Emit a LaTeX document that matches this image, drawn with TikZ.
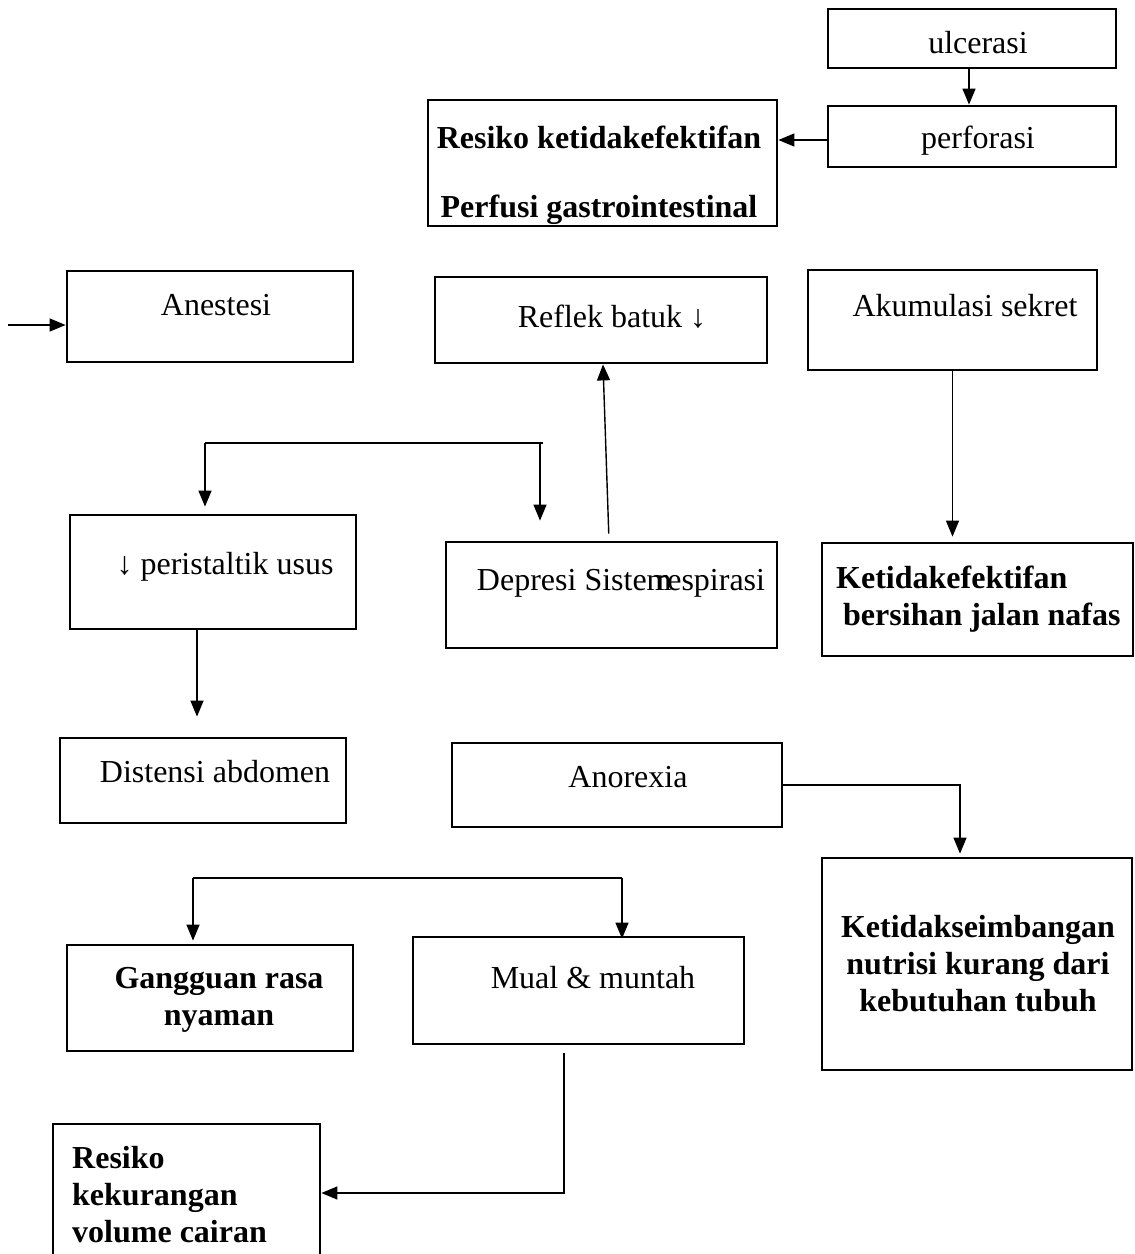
\documentclass[tikz,border=0pt]{standalone}
\usepackage{fontspec}
\setmainfont{Liberation Serif}
\usetikzlibrary{arrows.meta,calc}
\tikzset{
  box/.style={draw, rectangle, line width=2.8pt, inner sep=0pt},
  txt/.style={font=\fontsize{32pt}{37pt}\selectfont, inner sep=0pt, align=center},
  dgn/.style={font=\fontsize{32pt}{37pt}\selectfont\bfseries, inner sep=0pt},
  arr/.style={-{Triangle[length=16pt,width=13pt]}, line width=1.4pt},
  lnk/.style={line width=1.4pt},
}
\begin{document}
\begin{tikzpicture}[x=1pt,y=-1pt]
\useasboundingbox (0,0) rectangle (1135,1254);
\node[box, minimum width=288pt, minimum height=59pt] (ulc) at (972,38.5) {};
\node[txt, anchor=base] (ulcT) at (978,53) {ulcerasi};
\node[box, minimum width=288pt, minimum height=61pt] (perf) at (972,136.5) {};
\node[txt, anchor=base] (perfT) at (978,148) {perforasi};
\node[box, minimum width=349pt, minimum height=126pt] (rpg) at (602.5,163) {};
\node[dgn, align=center] (rpgT) at (599,175) {Resiko ketidakefektifan\\[32pt]Perfusi gastrointestinal};
\node[box, minimum width=286pt, minimum height=91pt] (anes) at (210,316.5) {};
\node[txt, anchor=base] (anesT) at (216,315) {Anestesi};
\node[box, minimum width=332pt, minimum height=86pt] (reflek) at (601,320) {};
\node[txt, anchor=base] (reflekT) at (612,327) {Reflek batuk ↓};
\node[box, minimum width=289pt, minimum height=100pt] (akum) at (952.5,320) {};
\node[txt, anchor=base] (akumT) at (965,316) {Akumulasi sekret};
\node[box, minimum width=286pt, minimum height=114pt] (peri) at (213,572) {};
\node[txt, anchor=base] (periT) at (225,574) {↓ peristaltik usus};
\node[box, minimum width=331pt, minimum height=106pt] (depr) at (611.5,595) {};
\node[txt, anchor=base] (deprT) at (621,590) {Depresi Sistem\hspace{-15pt}respirasi};
\node[box, minimum width=311pt, minimum height=113pt] (bers) at (977.5,599.5) {};
\node[dgn, align=left, anchor=west] (bersT) at (836,599) {Ketidakefektifan\\\hspace{7pt}bersihan jalan nafas};
\node[box, minimum width=286pt, minimum height=85pt] (dist) at (203,780.5) {};
\node[txt, anchor=base] (distT) at (215,782) {Distensi abdomen};
\node[box, minimum width=330pt, minimum height=84pt] (anor) at (617,785) {};
\node[txt, anchor=base] (anorT) at (628,787) {Anorexia};
\node[box, minimum width=310pt, minimum height=212pt] (ketseim) at (977,964) {};
\node[dgn, align=center] (ketseimT) at (978,964) {Ketidakseimbangan\\nutrisi kurang dari\\kebutuhan tubuh};
\node[box, minimum width=286pt, minimum height=106pt] (gang) at (210,998) {};
\node[dgn, align=center] (gangT) at (219,1000) {Gangguan rasa\\nyaman};
\node[box, minimum width=331pt, minimum height=107pt] (mual) at (578.5,990.5) {};
\node[txt, anchor=base] (mualT) at (593,988) {Mual \& muntah};
\node[box, minimum width=267pt, minimum height=138pt] (rkvc) at (186.5,1193) {};
\node[dgn, align=left, anchor=west] (rkvcT) at (72,1195) {Resiko\\kekurangan\\volume cairan};
\draw[arr] ([xshift=-3pt]ulc.south) -- ([xshift=-3pt]perf.north);
\draw[arr] ([yshift=-3.5pt]perf.west) -- ([yshift=-3.5pt]perf.west -| rpg.east);
\coordinate (src) at (8,325);
\draw[arr] (src) -- (src -| anes.west);
\coordinate (fkL) at (205,443); \coordinate (fkR) at (543,443);
\draw[lnk] (fkL) -- (fkR);
\draw[arr, shorten >=7pt] (fkL) -- (fkL |- peri.north);
\draw[arr, shorten >=20pt] ([xshift=-3pt]fkR) -- ([xshift=-3pt]fkR |- depr.north);
\draw[arr, shorten <=7pt] ([xshift=-2.5pt]depr.north) -- ([xshift=2pt]reflek.south);
\draw[arr, shorten >=5pt] (akum.south) -- (akum.south |- bers.north);
\draw[arr, shorten >=20pt] ([xshift=-16pt]peri.south) -- ([xshift=-16pt]peri.south |- dist.north);
\draw[arr, shorten >=3pt] (anor.east) -| ([xshift=-17pt]ketseim.north);
\coordinate (fk2L) at (193,878); \coordinate (fk2R) at (622,878);
\draw[lnk] (fk2L) -- (fk2R);
\draw[arr, shorten >=3pt] (fk2L) -- (fk2L |- gang.north);
\draw[arr, shorten >=-3pt] (fk2R) -- (fk2R |- mual.north);
\draw[arr, shorten <=8pt] ([xshift=-14.5pt]mual.south) |- (rkvc.east);
\end{tikzpicture}
\end{document}
